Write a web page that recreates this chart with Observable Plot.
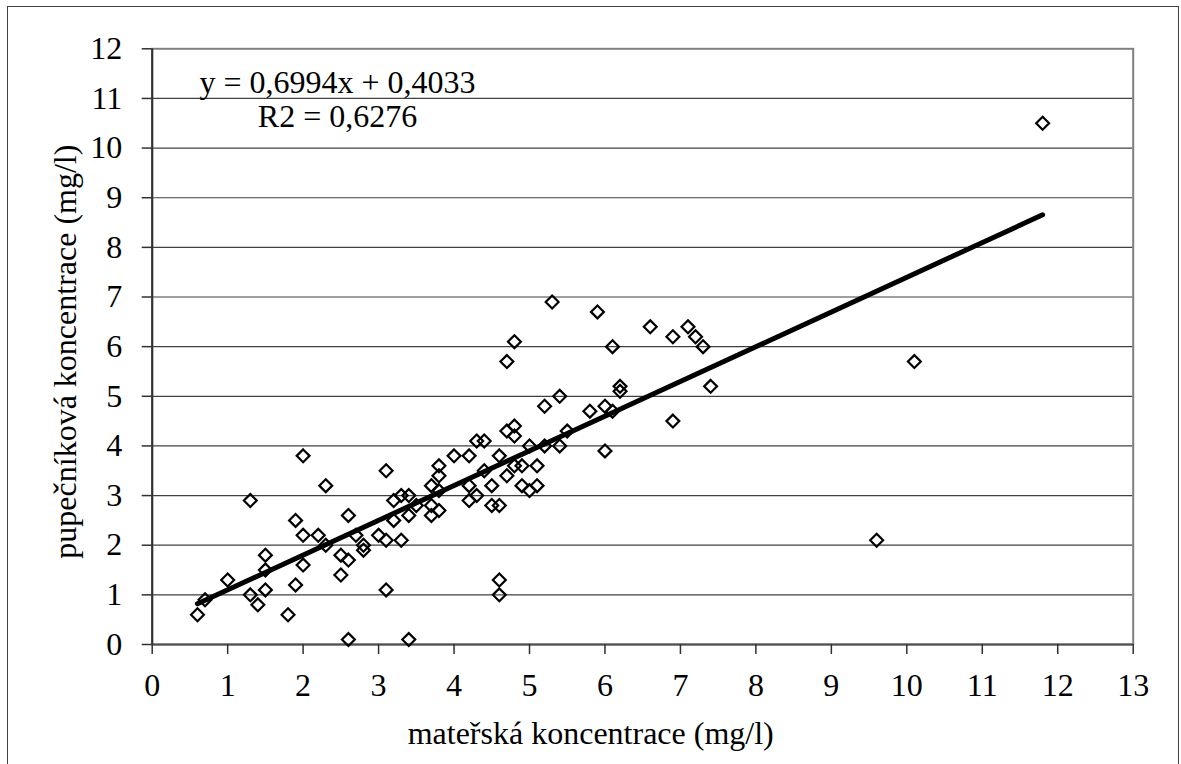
<!DOCTYPE html>
<html>
<head>
<meta charset="utf-8">
<script src="https://cdn.jsdelivr.net/npm/d3@7"></script>
<script src="https://cdn.jsdelivr.net/npm/@observablehq/plot@0.6"></script>
<style>
  html, body { margin: 0; padding: 0; background: #fff; }
  #wrap { position: relative; width: 1181px; height: 764px; overflow: hidden; }
  #border { position: absolute; left: 7px; top: 6px; width: 1172px; height: 780px; border: 1px solid #404040; box-sizing: border-box; pointer-events: none; }
  svg, svg text { font-family: "Liberation Serif", "Times New Roman", serif !important; }
</style>
</head>
<body>
<div id="wrap"><div id="border"></div></div>
<script>
// maternal concentration (mg/l)
const maternal = [
  0.6, 0.7, 1.0, 1.3, 1.3, 1.4, 1.5, 1.5, 1.5, 1.8,
  1.9, 1.9, 2.0, 2.0, 2.0, 2.2, 2.3, 2.3, 2.5, 2.5,
  2.6, 2.6, 2.6, 2.7, 2.8, 2.8, 3.0, 3.1, 3.1, 3.1,
  3.2, 3.2, 3.3, 3.3, 3.4, 3.4, 3.4, 3.5, 3.7, 3.7,
  3.7, 3.8, 3.8, 3.8, 3.8, 4.0, 4.2, 4.2, 4.2, 4.3,
  4.3, 4.4, 4.4, 4.5, 4.5, 4.6, 4.6, 4.6, 4.6, 4.7,
  4.7, 4.7, 4.8, 4.8, 4.8, 4.8, 4.9, 4.9, 5.0, 5.0,
  5.1, 5.1, 5.2, 5.2, 5.3, 5.4, 5.4, 5.5, 5.8, 5.9,
  6.0, 6.0, 6.1, 6.1, 6.2, 6.2, 6.6, 6.9, 6.9, 7.1,
  7.2, 7.3, 7.4, 9.6, 10.1, 11.8
];
// umbilical concentration (mg/l)
const umbilical = [
  0.6, 0.9, 1.3, 2.9, 1.0, 0.8, 1.8, 1.5, 1.1, 0.6,
  2.5, 1.2, 3.8, 2.2, 1.6, 2.2, 3.2, 2.0, 1.8, 1.4,
  2.6, 1.7, 0.1, 2.2, 2.0, 1.9, 2.2, 3.5, 2.1, 1.1,
  2.9, 2.5, 3.0, 2.1, 3.0, 2.6, 0.1, 2.8, 3.2, 2.8,
  2.6, 3.6, 3.4, 3.1, 2.7, 3.8, 3.8, 3.2, 2.9, 4.1,
  3.0, 4.1, 3.5, 3.2, 2.8, 3.8, 2.8, 1.3, 1.0, 5.7,
  4.3, 3.4, 6.1, 4.4, 4.2, 3.6, 3.6, 3.2, 4.0, 3.1,
  3.6, 3.2, 4.8, 4.0, 6.9, 5.0, 4.0, 4.3, 4.7, 6.7,
  4.8, 3.9, 6.0, 4.7, 5.2, 5.1, 6.4, 6.2, 4.5, 6.4,
  6.2, 6.0, 5.2, 2.1, 5.7, 10.5
];
const xTicks = [0,1,2,3,4,5,6,7,8,9,10,11,12,13];
const yTicks = [0,1,2,3,4,5,6,7,8,9,10,11,12];
const gridValues = [1,2,3,4,5,6,7,8,9,10,11];
const slope = 0.6994;
const intercept = 0.4033;
const equationLine = "y = 0,6994x + 0,4033";
const r2Line = "R2 = 0,6276";
const xTitle = "mateřská koncentrace (mg/l)";
const yTitle = "pupečníková koncentrace (mg/l)";

const points = maternal.map((m, i) => ({m, u: umbilical[i]}));
const [xmin, xmax] = d3.extent(maternal);
const trend = [xmin, xmax].map(x => ({x, y: slope * x + intercept}));

const FS = 32;
const FF = '"Liberation Serif", "Times New Roman", serif';
const chart = Plot.plot({
  width: 1181,
  height: 764,
  marginLeft: 151.7,
  marginRight: 48.3,
  marginTop: 48.3,
  marginBottom: 120,
  style: {fontFamily: FF, fontSize: FS + "px", color: "#000", background: "transparent", overflow: "visible"},
  x: {domain: [0, 13]},
  y: {domain: [0, 12]},
  marks: [
    Plot.ruleY(gridValues, {stroke: "#404040", strokeWidth: 1.2}),
    Plot.frame({stroke: "#808080", strokeWidth: 2}),
    Plot.ruleX([0], {stroke: "#303030", strokeWidth: 2}),
    Plot.ruleY([0], {stroke: "#505050", strokeWidth: 2}),
    Plot.axisX({ticks: xTicks, tickSize: 10, tickPadding: 19, tickFormat: d => String(d), label: null, stroke: "#303030", strokeWidth: 1.5, fontSize: FS, fontFamily: FF}),
    Plot.axisY({ticks: yTicks, tickSize: 10, tickPadding: 20, tickFormat: d => String(d), label: null, stroke: "#303030", strokeWidth: 1.5, fontSize: FS, fontFamily: FF}),
    Plot.dot(points, {x: "m", y: "u", symbol: "diamond2", r: 5.8, stroke: "#000", strokeWidth: 2.2, fill: "none"}),
    Plot.line(trend, {x: "x", y: "y", stroke: "#000", strokeWidth: 5}),
    Plot.text([equationLine], {frameAnchor: "top-left", dx: 185.3, dy: 33.5, textAnchor: "middle", lineAnchor: "middle", fontSize: FS, fontFamily: FF, fill: "#000"}),
    Plot.text([r2Line], {frameAnchor: "top-left", dx: 185.3, dy: 68.2, textAnchor: "middle", lineAnchor: "middle", fontSize: FS, fontFamily: FF, fill: "#000"}),
    Plot.text([xTitle], {frameAnchor: "bottom", dx: -52, dy: 88.8, textAnchor: "middle", lineAnchor: "middle", fontSize: FS, fontFamily: FF, fill: "#000"}),
    Plot.text([yTitle], {frameAnchor: "left", dx: -86, dy: 5, rotate: -90, textAnchor: "middle", lineAnchor: "middle", fontSize: FS, fontFamily: FF, fill: "#000"})
  ]
});
chart.style.position = "absolute";
chart.style.left = "0px";
chart.style.top = "0px";
document.getElementById("wrap").appendChild(chart);
</script>
</body>
</html>
